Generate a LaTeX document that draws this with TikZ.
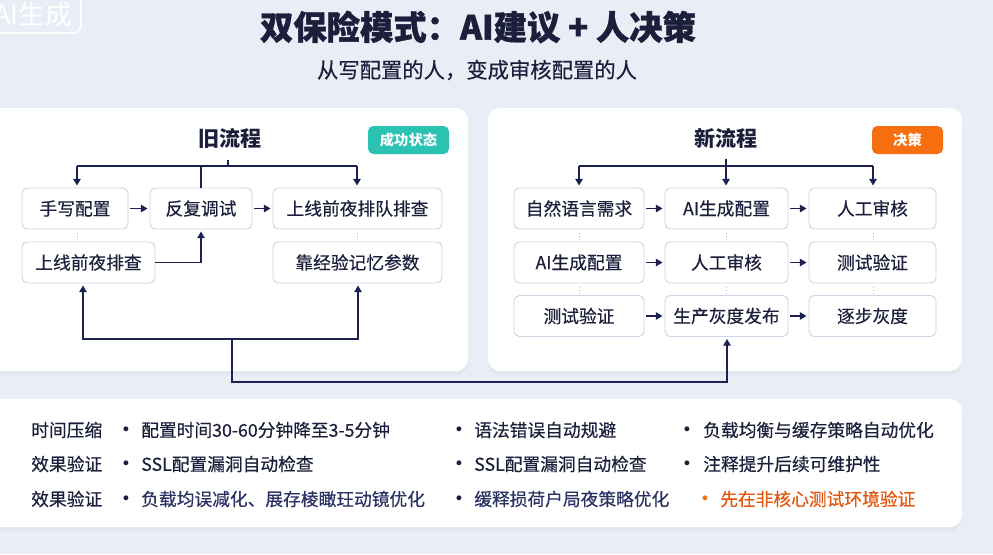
\documentclass[tikz,border=0pt]{standalone}
\usepackage{fontspec}
\setmainfont{Noto Sans CJK SC}
\newfontfamily\medfont{Noto Sans CJK SC}[FakeBold=0.35]
\newfontfamily\heavyfont{Noto Sans CJK SC}[BoldFeatures={FakeBold=1.2}]
\newfontfamily\bulfont{DejaVu Sans}
\usetikzlibrary{arrows.meta,shadows}
\definecolor{ink}{HTML}{1B1F3B}
\definecolor{arrowc}{HTML}{1C2150}
\definecolor{boxline}{HTML}{CDD4E4}
\definecolor{tealc}{HTML}{2BC2B2}
\definecolor{orng}{HTML}{F56F10}
\definecolor{bgc}{HTML}{E9EDF5}
\definecolor{dotc}{HTML}{B5BCCB}
\definecolor{mixc}{HTML}{2B3263}
\definecolor{ored}{HTML}{E3560C}
\begin{document}
\begin{tikzpicture}[x=0.75pt,y=-0.75pt,
 panel/.style={fill=white, rounded corners=9pt, drop shadow={opacity=0.06, shadow xshift=0pt, shadow yshift=-3pt}},
 flowbox/.style={draw=boxline, line width=0.7pt, fill=white, rounded corners=4pt, minimum height=30.75pt, inner sep=0pt, font=\medfont\fontsize{13.3}{15}\selectfont, text=ink},
 conn/.style={draw=arrowc, line width=1.4pt},
 arr/.style={conn, -{Triangle[length=5pt,width=5.5pt]}, shorten >=1.5pt},
 dotline/.style={draw=dotc, line width=0.6pt, dash pattern=on 1pt off 1.2pt},
 badge/.style={rounded corners=4pt, minimum height=21pt, inner sep=0pt, text=white, font=\bfseries\fontsize{10.7}{12}\selectfont},
 ptitle/.style={font=\bfseries\fontsize{15.8}{18}\selectfont, text=ink},
 lbl/.style={anchor=west, inner sep=0pt, font=\medfont\fontsize{13.3}{15}\selectfont, text=ink},
 bul/.style={inner sep=0pt, font=\bulfont\fontsize{12.5}{14}\selectfont, text=ink},
]
\useasboundingbox (0,0) rectangle (993,554);
\fill[bgc] (0,0) rectangle (993,554);

% watermark
\draw[white, line width=1.2pt, rounded corners=6pt] (-20,-20) rectangle (81,33);
\node[anchor=east, inner sep=0pt, text=white, font=\fontsize{20}{21}\selectfont] (wm) at (72,14) {AI生成};

% titles
\node[font=\heavyfont\bfseries\fontsize{25}{29}\selectfont, text=ink] (title) at (478,27) {双保险模式：AI建议 + 人决策};
\node[font=\medfont\fontsize{16}{19}\selectfont, text=ink] (sub) at (477,70) {从写配置的人，变成审核配置的人};

% panels
\path[panel] (-12,108) rectangle (468,371);
\path[panel] (488,108) rectangle (962,371);
\path[panel] (-12,399) rectangle (962,527);

\node[ptitle] (oldt) at (230,138) {旧流程};
\node[ptitle] (newt) at (726,138) {新流程};
\node[badge, fill=tealc, minimum width=60.75pt] (b1) at (408.5,140) {成功状态};
\node[badge, fill=orng, minimum width=53.25pt] (b2) at (907.5,140) {决策};

% old flow boxes
\node[flowbox, minimum width=79.5pt] (A) at (75,208.5) {手写配置};
\node[flowbox, minimum width=76.5pt] (B) at (201,208.5) {反复调试};
\node[flowbox, minimum width=126.75pt] (C) at (357.5,208.5) {上线前夜排队排查};
\node[flowbox, minimum width=99.75pt] (D) at (88.5,262.5) {上线前夜排查};
\node[flowbox, minimum width=126.75pt] (E) at (357.5,262.5) {靠经验记忆参数};

% new flow boxes
\node[flowbox, minimum width=97.5pt]  (R11) at (579,208.5) {自然语言需求};
\node[flowbox, minimum width=92.25pt] (R12) at (726.5,208.5) {AI生成配置};
\node[flowbox, minimum width=95.25pt] (R13) at (872.5,208.5) {人工审核};
\node[flowbox, minimum width=97.5pt]  (R21) at (579,262.5) {AI生成配置};
\node[flowbox, minimum width=92.25pt] (R22) at (726.5,262.5) {人工审核};
\node[flowbox, minimum width=95.25pt] (R23) at (872.5,262.5) {测试验证};
\node[flowbox, minimum width=97.5pt]  (R31) at (579,316) {测试验证};
\node[flowbox, minimum width=92.25pt] (R32) at (726.5,316) {生产灰度发布};
\node[flowbox, minimum width=95.25pt] (R33) at (872.5,316) {逐步灰度};

% old flow connectors
\draw[arr, shorten <=1.5pt] (A) -- (B);
\draw[arr, shorten <=1.5pt] (B) -- (C);
\coordinate (tl) at (77,166);
\coordinate (tr) at (357,166);
\coordinate (tk) at (228,160);
\draw[conn] (B.north) -- (B.north |- tl);
\draw[conn] (tl) -- (tr);
\draw[conn, line width=1pt] (tk) -- (tk |- tl);
\draw[arr] (tl) -- (A.north -| tl);
\draw[arr] (tr) -- (C.north -| tr);
\draw[arr] (D.east) -- (B.south |- D.east) -- (B.south);
\draw[dotline] (77,233) -- (77,240);
\draw[dotline] (357,233) -- (357,240);

% bottom connector
\coordinate (jM) at (232,339);
\coordinate (jL) at (83,339);
\coordinate (jR) at (358,339);
\coordinate (jB) at (232,382);
\coordinate (jN) at (727,382);
\draw[arr] (jM) -- (jL) -- (D.south -| jL);
\draw[arr] (jM) -- (jR) -- (E.south -| jR);
\draw[arr] (jM) -- (jB) -- (jN) -- (R32.south -| jN);

% new flow connectors
\coordinate (rl) at (579,166);
\coordinate (rr) at (873,166);
\coordinate (rt) at (726,159);
\draw[conn] (rl) -- (rr);
\draw[arr] (rl) -- (R11.north -| rl);
\draw[arr] (rr) -- (R13.north -| rr);
\draw[arr] (rt) -- (R12.north -| rt);
\foreach \r in {1,2,3}{
  \draw[arr, shorten <=1.5pt] (R\r1) -- (R\r2);
  \draw[arr, shorten <=1.5pt] (R\r2) -- (R\r3);
}
\foreach \x in {579,726,873}{
  \draw[dotline] (\x,233) -- (\x,240);
  \draw[dotline] (\x,287) -- (\x,293);
}

% bottom panel text
\node[lbl] (l1) at (31,430) {时间压缩};
\node[lbl] (l2) at (31,464) {效果验证};
\node[lbl] (l3) at (31,499) {效果验证};

\node[bul] (p11) at (126,431) {•};
\node[bul] (p21) at (126,465) {•};
\node[bul] (p31) at (126,500) {•};
\node[lbl] (t11) at (141,430) {配置时间30-60分钟降至3-5分钟};
\node[lbl] (t21) at (141,464) {SSL配置漏洞自动检查};
\node[lbl, text=mixc] (t31) at (141,499) {负载均误减化、展存棱瞰玨动镜优化};

\node[bul] (p12) at (459,431) {•};
\node[bul] (p22) at (459,465) {•};
\node[bul] (p32) at (459,500) {•};
\node[lbl] (t12) at (474,430) {语法错误自动规避};
\node[lbl] (t22) at (474,464) {SSL配置漏洞自动检查};
\node[lbl, text=mixc] (t32) at (474,499) {缓释损荷户局夜策略优化};

\node[bul] (p13) at (687,431) {•};
\node[bul] (p23) at (687,465) {•};
\node[bul, text=orng] (p33) at (705,500) {•};
\node[lbl] (t13) at (703,430) {负载均衡与缓存策略自动优化};
\node[lbl] (t23) at (703,464) {注释提升后续可维护性};
\node[lbl, text=ored] (t33) at (720,499) {先在非核心测试环境验证};
\end{tikzpicture}
\end{document}
